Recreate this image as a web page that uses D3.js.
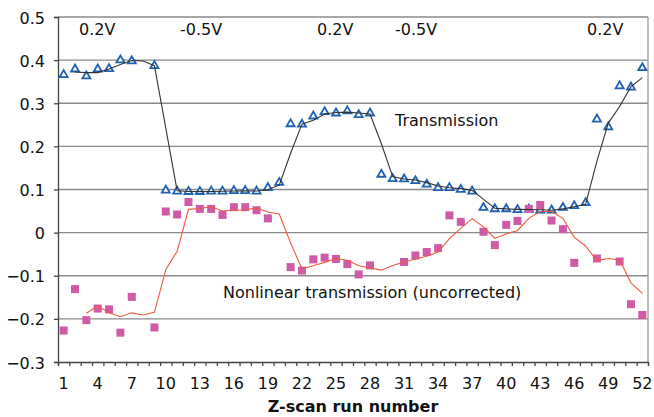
<!DOCTYPE html>
<html>
<head>
<meta charset="utf-8">
<script src="https://cdn.jsdelivr.net/npm/d3@7"></script>
<style>
  html, body { margin: 0; padding: 0; background: #fff; }
  svg { display: block; font-family: "DejaVu Sans", Verdana, sans-serif; }
</style>
</head>
<body>
<svg id="chart" width="654" height="417"></svg>
<script>
// Z-scan runs 1..52
const runs = d3.range(1, 53);
const xTickLabels = [1, 4, 7, 10, 13, 16, 19, 22, 25, 28, 31, 34, 37, 40, 43, 46, 49, 52];
const yTicks = [0.5, 0.4, 0.3, 0.2, 0.1, 0, -0.1, -0.2, -0.3];

// Transmission (open triangles); null = no measurement
const transmission = [
  0.366, 0.379, 0.363, 0.379, 0.380, 0.400, 0.398, null, 0.387, 0.098,
  0.096, 0.095, 0.095, 0.096, 0.096, 0.097, 0.097, 0.096, 0.104, 0.116,
  0.252, 0.251, 0.270, 0.280, 0.277, 0.282, 0.273, 0.277, 0.135, 0.125,
  0.124, 0.120, 0.112, 0.104, 0.104, 0.100, 0.096, 0.058, 0.055, 0.055,
  0.053, 0.054, 0.052, 0.052, 0.058, 0.062, 0.069, 0.263, 0.245, 0.340,
  0.337, 0.382
];
// Transmission trend (2-run moving average)
const transmissionTrend = [
  null, 0.3725, 0.371, 0.371, 0.3795, 0.390, 0.399, 0.398, 0.387, 0.2425,
  0.097, 0.0955, 0.095, 0.0955, 0.096, 0.0965, 0.097, 0.0965, 0.100, 0.110,
  0.184, 0.2515, 0.2605, 0.275, 0.2785, 0.2795, 0.2775, 0.275, 0.206, 0.130,
  0.1245, 0.122, 0.116, 0.108, 0.104, 0.102, 0.098, 0.077, 0.0565, 0.055,
  0.054, 0.0535, 0.053, 0.052, 0.055, 0.060, 0.0655, 0.166, 0.254, 0.2925,
  0.3385, 0.3595
];
// Nonlinear transmission, uncorrected (squares)
const nonlinear = [
  -0.227, -0.131, -0.203, -0.176, -0.178, -0.232, -0.149, null, -0.220, 0.049,
  0.042, 0.071, 0.055, 0.055, 0.041, 0.059, 0.059, 0.052, 0.033, null,
  -0.080, -0.088, -0.062, -0.058, -0.061, -0.073, -0.097, -0.076, null, null,
  -0.068, -0.053, -0.045, -0.036, 0.040, 0.025, null, 0.002, -0.029, 0.018,
  0.027, 0.055, 0.064, 0.028, 0.008, -0.070, null, -0.060, null, -0.067,
  -0.166, -0.191
];
// Nonlinear trend (3-run moving average)
const nonlinearTrend = [
  null, null, -0.187, -0.170, -0.186, -0.195, -0.186, -0.191, -0.185, -0.086,
  -0.043, 0.054, 0.056, 0.060, 0.050, 0.052, 0.053, 0.057, 0.048, 0.043,
  -0.024, -0.084, -0.077, -0.069, -0.060, -0.064, -0.077, -0.082, -0.087, -0.076,
  -0.068, -0.061, -0.055, -0.045, -0.014, 0.010, 0.0325, 0.0135, -0.0135, -0.003,
  0.005, 0.033, 0.049, 0.049, 0.033, -0.011, -0.031, -0.065, -0.060, -0.0635,
  -0.1165, -0.141
];

// Bias annotations along the top
const biasLabels = ["0.2V", "-0.5V", "0.2V", "-0.5V", "0.2V"];
const biasX = [79, 180, 317, 395, 587];

const svg = d3.select("#chart");
const plotLeft = 58, plotRight = 648, plotTop = 17, plotBottom = 362;

const x = d3.scaleBand().domain(runs).range([plotLeft, plotRight]).padding(0);
const xEdge = d3.scaleLinear().domain([0.5, 52.5]).range([plotLeft, plotRight]);
const y = d3.scaleLinear().domain([-0.3, 0.5]).range([plotBottom, plotTop]);
const cx = r => x(r) + x.bandwidth() / 2;

// Horizontal gridlines
svg.append("g")
  .selectAll("line")
  .data(yTicks.filter(v => v > -0.3))
  .join("line")
  .attr("x1", plotLeft).attr("x2", plotRight)
  .attr("y1", d => y(d)).attr("y2", d => y(d))
  .attr("stroke", "#8a8a8a").attr("stroke-width", 1.3);

// Right border of the plot area
svg.append("line")
  .attr("x1", plotRight).attr("x2", plotRight).attr("y1", plotTop).attr("y2", plotBottom)
  .attr("stroke", "#9a9a9a").attr("stroke-width", 1.3);

// Y axis
const yAxis = svg.append("g")
  .attr("transform", `translate(${plotLeft},0)`)
  .call(d3.axisLeft(y).tickValues(yTicks).tickSize(4).tickPadding(9)
    .tickFormat(d => d === 0 ? "0" : d3.format(".1f")(d)));
yAxis.select(".domain").attr("stroke", "#444").attr("stroke-width", 1.3);
yAxis.selectAll(".tick line").attr("stroke", "#444").attr("stroke-width", 1.3);
yAxis.selectAll("text").attr("font-size", 16).attr("fill", "#111")
  .attr("font-family", "DejaVu Sans, sans-serif").attr("dy", "0.38em");

// X axis: ticks on run boundaries, labels on selected runs
const xAxis = svg.append("g")
  .attr("transform", `translate(0,${plotBottom})`)
  .call(d3.axisBottom(xEdge).tickValues(d3.range(0.5, 53, 1)).tickSize(4).tickFormat(""));
xAxis.select(".domain").attr("stroke", "#444").attr("stroke-width", 1.3);
xAxis.selectAll(".tick line").attr("stroke", "#444").attr("stroke-width", 1.3);

svg.append("g")
  .selectAll("text")
  .data(xTickLabels)
  .join("text")
  .attr("x", d => cx(d))
  .attr("y", 389)
  .attr("text-anchor", "middle")
  .attr("font-size", 16)
  .attr("fill", "#111")
  .text(d => d);

svg.append("text")
  .attr("x", (plotLeft + plotRight) / 2)
  .attr("y", 412)
  .attr("text-anchor", "middle")
  .attr("font-size", 16)
  .attr("font-weight", "bold")
  .attr("fill", "#111")
  .text("Z-scan run number");

// Markers
const tri = d3.symbol().type(d3.symbolTriangle).size(28);
svg.append("g")
  .selectAll("path")
  .data(runs.filter((r, i) => transmission[i] != null))
  .join("path")
  .attr("d", tri)
  .attr("transform", r => `translate(${cx(r)},${y(transmission[r - 1])})`)
  .attr("fill", "#fff")
  .attr("stroke", "#1f62b3")
  .attr("stroke-width", 1.8);

const sq = 8;
svg.append("g")
  .selectAll("rect")
  .data(runs.filter((r, i) => nonlinear[i] != null))
  .join("rect")
  .attr("x", r => cx(r) - sq / 2)
  .attr("y", r => y(nonlinear[r - 1]) - sq / 2)
  .attr("width", sq).attr("height", sq)
  .attr("fill", "#cf5aa7");

// Trend lines
const trend = vals => d3.line()
  .defined(r => vals[r - 1] != null)
  .x(r => cx(r))
  .y(r => y(vals[r - 1]));

svg.append("path")
  .datum(runs)
  .attr("d", trend(transmissionTrend))
  .attr("fill", "none")
  .attr("stroke", "#333")
  .attr("stroke-width", 1.1);

svg.append("path")
  .datum(runs)
  .attr("d", trend(nonlinearTrend))
  .attr("fill", "none")
  .attr("stroke", "#ec5a3e")
  .attr("stroke-width", 1.1);

// Annotations
svg.append("g")
  .selectAll("text")
  .data(biasLabels)
  .join("text")
  .attr("x", (d, i) => biasX[i])
  .attr("y", 35)
  .attr("font-size", 16)
  .attr("fill", "#111")
  .text(d => d);

svg.append("text")
  .attr("x", 395).attr("y", 126)
  .attr("font-size", 16).attr("fill", "#111")
  .text("Transmission");

svg.append("text")
  .attr("x", 223).attr("y", 298)
  .attr("font-size", 16).attr("fill", "#111")
  .text("Nonlinear transmission (uncorrected)");
</script>
</body>
</html>
